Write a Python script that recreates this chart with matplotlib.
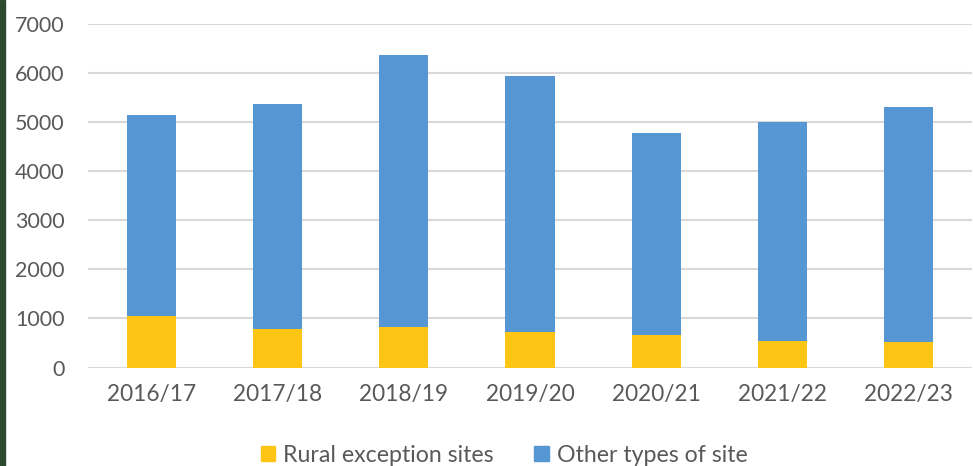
import matplotlib.pyplot as plt
from matplotlib.patches import Patch, Rectangle

# sites per year, split by type
years = ['2016/17', '2017/18', '2018/19', '2019/20', '2020/21', '2021/22', '2022/23']
rural = [1050, 780, 835, 725, 670, 535, 525]
total = [5150, 5370, 6380, 5940, 4775, 5010, 5315]
other = [t - r for t, r in zip(total, rural)]

yellow = '#FFC514'
blue = '#5596D3'
text_grey = '#595959'

plt.rcParams['font.family'] = ['Lato', 'DejaVu Sans']

fig = plt.figure(figsize=(9.73, 4.66), dpi=100)
ax = fig.add_axes([88 / 973, 98.5 / 466, 884 / 973, 343.4 / 466])

x = range(len(years))
ax.bar(x, rural, width=0.39, color=yellow, zorder=3)
ax.bar(x, other, width=0.39, bottom=rural, color=blue, zorder=3)

ax.set_xlim(-0.5, len(years) - 0.5)
ax.set_ylim(0, 7000)
ax.set_yticks(range(0, 7001, 1000))
ax.set_xticks(list(x))
ax.set_xticklabels(years)
ax.grid(axis='y', color='#d9d9d9', linewidth=1.5, zorder=0)
ax.set_axisbelow(True)
for s in ax.spines.values():
    s.set_visible(False)
ax.tick_params(length=0, colors=text_grey)
ax.tick_params(axis='y', pad=17, labelsize=15.5)
ax.tick_params(axis='x', pad=12, labelsize=16.3)

handles = [Patch(color=yellow, label='Rural exception sites'),
           Patch(color=blue, label='Other types of site')]
fig.legend(handles=handles, loc='center', bbox_to_anchor=(504 / 973, 11 / 466),
           ncol=2, frameon=False, fontsize=16.7, labelcolor=text_grey,
           handlelength=0.62, handleheight=0.62, handletextpad=0.35, columnspacing=1.75)

# dark strip on the left edge
fig.add_artist(Rectangle((0, 0), 5 / 973, 1, transform=fig.transFigure,
                         color='#2d4a2f', zorder=10))

fig.savefig('out.png', dpi=100, facecolor='white')
